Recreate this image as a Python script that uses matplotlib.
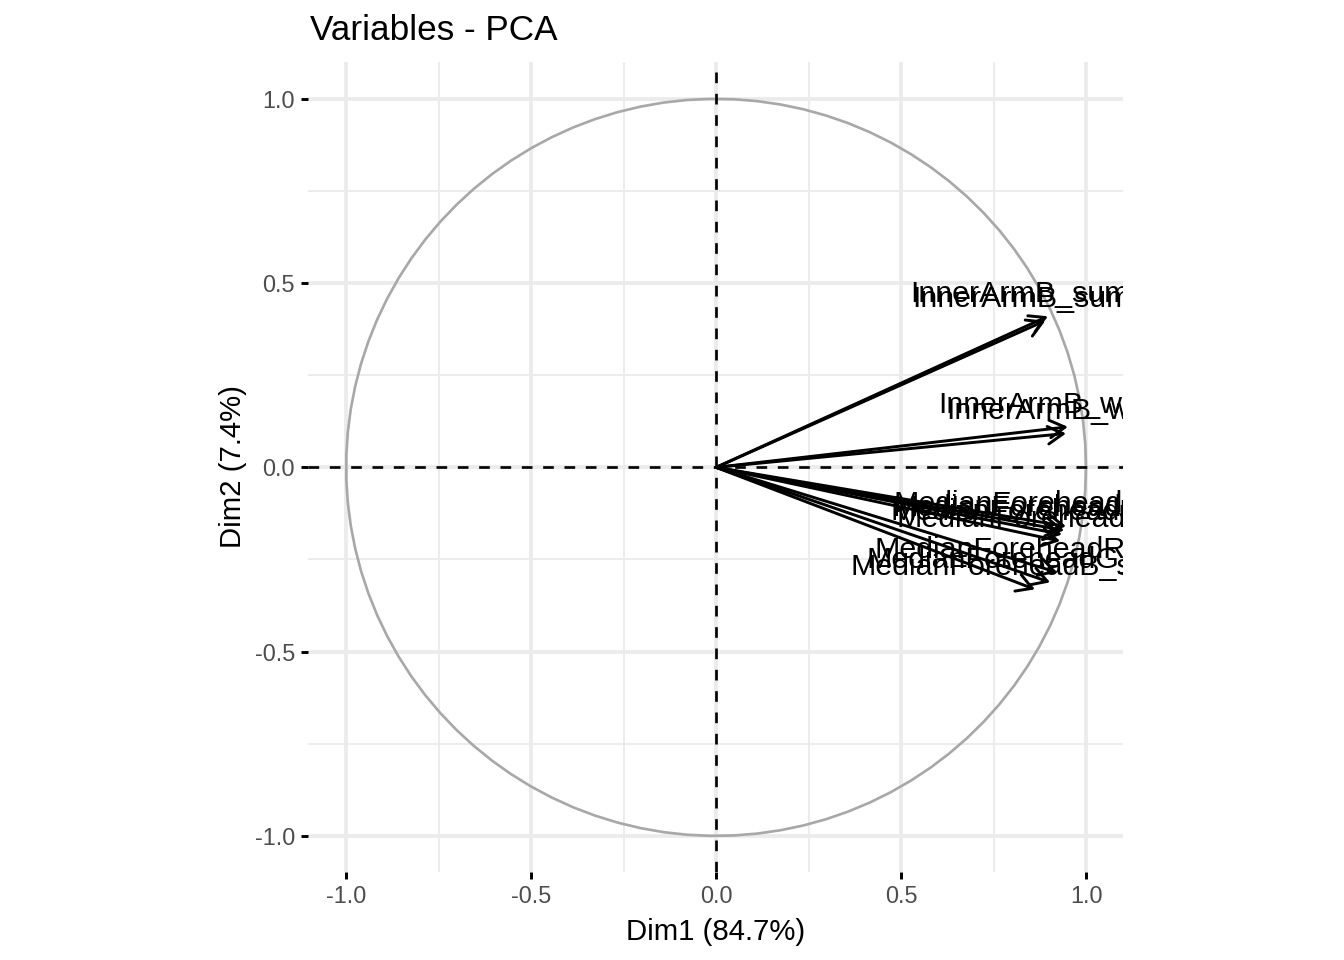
import numpy as np
import matplotlib
matplotlib.use("Agg")
import matplotlib.pyplot as plt
from matplotlib.ticker import MultipleLocator
from matplotlib.transforms import offset_copy

plt.rcParams['font.family'] = ['Liberation Sans', 'DejaVu Sans']
plt.rcParams['axes.unicode_minus'] = False

# Variable loadings on the first two dimensions
names = ["InnerArmB_sumHue", "InnerArmB_sumSat", "InnerArmB_wMean", "InnerArmB_wHue",
         "MedianForeheadG_mean", "MedianForeheadR_mean", "MedianForeheadB_mean",
         "MedianForeheadG_sum", "MedianForeheadR_wMean", "MedianForeheadG_wMean",
         "MedianForeheadB_sumSat"]
dim1 = [0.897, 0.890, 0.951, 0.946, 0.946, 0.941, 0.935, 0.930, 0.922, 0.903, 0.862]
dim2 = [0.410, 0.398, 0.110, 0.092, -0.160, -0.171, -0.182, -0.200, -0.285, -0.312, -0.331]

ticks = [-1.0, -0.5, 0.0, 0.5, 1.0]
tick_labels = ["-1.0", "-0.5", "0.0", "0.5", "1.0"]

fig = plt.figure(figsize=(7, 5), dpi=192)
ax = fig.add_axes([308 / 1344, 1 - 872 / 960, 815 / 1344, 810 / 960])

# theme_minimal look
for s in ax.spines.values():
    s.set_visible(False)
ax.set_xlim(-1.103, 1.100)
ax.set_ylim(-1.098, 1.100)
ax.set_xticks(ticks)
ax.set_yticks(ticks)
ax.set_xticklabels(tick_labels)
ax.set_yticklabels(tick_labels)
ax.xaxis.set_minor_locator(MultipleLocator(0.25))
ax.yaxis.set_minor_locator(MultipleLocator(0.25))
ax.tick_params(which='major', length=2.75, width=1.1, color='black', pad=2.2,
               labelsize=8.8, labelcolor='#4D4D4D')
ax.tick_params(which='minor', length=0)
ax.grid(which='major', color='#EBEBEB', lw=1.42)
ax.grid(which='minor', color='#EBEBEB', lw=0.71)
ax.set_axisbelow(True)

# correlation circle
theta = np.linspace(0, 2 * np.pi, 100)
ax.plot(np.cos(theta), np.sin(theta), color='#A8A8A8', lw=1.0, zorder=2)

ax.axhline(0, color='black', lw=1.0, ls=(0, (4, 4)), zorder=3)
ax.axvline(0, color='black', lw=1.0, ls=(0, (4, 4)), zorder=3)

# arrows + labels
lab_trans = offset_copy(ax.transData, fig=fig, y=5.25, units='points')
for n, x, y in zip(names, dim1, dim2):
    ax.annotate('', xy=(x, y), xytext=(0, 0),
                arrowprops=dict(arrowstyle='->,head_length=0.57,head_width=0.33',
                                lw=1.1, color='black', shrinkA=0, shrinkB=0,
                                mutation_scale=10),
                zorder=4)
    ax.text(x, y, n, transform=lab_trans, ha='center', va='baseline',
            fontsize=11.4, color='black', clip_on=True, zorder=5)

ax.set_xlabel("Dim1 (84.7%)", fontsize=11, color='black', va='center')
ax.xaxis.set_label_coords(0.5, (872 - 932) / 810)
ax.set_ylabel("Dim2 (7.4%)", fontsize=11, color='black', va='center')
ax.yaxis.set_label_coords((233 - 308) / 815, 0.5)
ax.text(0.0025, (872 - 30) / 810, "Variables - PCA", transform=ax.transAxes,
        fontsize=13.2, ha='left', va='center', color='black')

fig.savefig("out.png", dpi=192)
